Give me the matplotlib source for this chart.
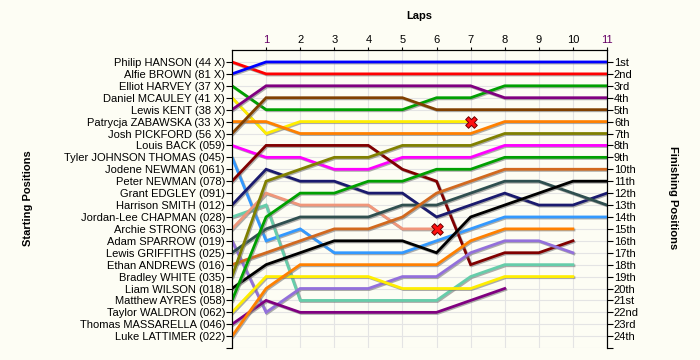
import numpy as np
import matplotlib
matplotlib.use("Agg")
import matplotlib.pyplot as plt
import matplotlib.patheffects as pe

# Drivers in starting order (grid position 1..24)
drivers = [
    "Philip HANSON (44 X)", "Alfie BROWN (81 X)", "Elliot HARVEY (37 X)",
    "Daniel MCAULEY (41 X)", "Lewis KENT (38 X)", "Patrycja ZABAWSKA (33 X)",
    "Josh PICKFORD (56 X)", "Louis BACK (059)", "Tyler JOHNSON THOMAS (045)",
    "Jodene NEWMAN (061)", "Peter NEWMAN (078)", "Grant EDGLEY (091)",
    "Harrison SMITH (012)", "Jordan-Lee CHAPMAN (028)", "Archie STRONG (063)",
    "Adam SPARROW (019)", "Lewis GRIFFITHS (025)", "Ethan ANDREWS (016)",
    "Bradley WHITE (035)", "Liam WILSON (018)", "Matthew AYRES (058)",
    "Taylor WALDRON (062)", "Thomas MASSARELLA (046)", "Luke LATTIMER (022)",
]

finish_labels = ["1st", "2nd", "3rd"] + [f"{i}th" for i in range(4, 21)] + ["21st", "22nd", "23rd", "24th"]

# Position at each lap (lap 0 = grid)
positions = {
    "Philip HANSON (44 X)":      [1, 2, 2, 2, 2, 2, 2, 2, 2, 2, 2, 2],
    "Alfie BROWN (81 X)":        [2, 1, 1, 1, 1, 1, 1, 1, 1, 1, 1, 1],
    "Elliot HARVEY (37 X)":      [3, 5, 5, 5, 5, 5, 4, 4, 3, 3, 3, 3],
    "Daniel MCAULEY (41 X)":     [4, 7, 6, 6, 6, 6, 6, 6],
    "Lewis KENT (38 X)":         [5, 3, 3, 3, 3, 3, 3, 3, 4, 4, 4, 4],
    "Patrycja ZABAWSKA (33 X)":  [6, 6, 7, 7, 7, 7, 7, 7, 6, 6, 6, 6],
    "Josh PICKFORD (56 X)":      [7, 4, 4, 4, 4, 4, 5, 5, 5, 5, 5, 5],
    "Louis BACK (059)":          [8, 9, 9, 10, 10, 9, 9, 9, 8, 8, 8, 8],
    "Tyler JOHNSON THOMAS (045)": [9, 16, 15, 17, 17, 17, 16, 15, 14, 14, 14, 14],
    "Peter NEWMAN (078)":        [11, 8, 8, 8, 8, 10, 11, 18, 17, 17, 16],
    "Harrison SMITH (012)":      [13, 10, 11, 11, 12, 12, 14, 13, 12, 13, 13, 12],
    "Jordan-Lee CHAPMAN (028)":  [14, 13, 21, 21, 21, 21, 21, 19, 18, 18, 18],
    "Archie STRONG (063)":       [15, 12, 13, 13, 13, 15, 15],
    "Adam SPARROW (019)":        [16, 22, 20, 20, 20, 19, 19, 17, 16, 16, 17],
    "Lewis GRIFFITHS (025)":     [17, 15, 14, 14, 14, 13, 13, 12, 11, 11, 12, 13],
    "Ethan ANDREWS (016)":       [18, 17, 16, 15, 15, 14, 12, 11, 10, 10, 10, 10],
    "Bradley WHITE (035)":       [19, 11, 10, 9, 9, 8, 8, 8, 7, 7, 7, 7],
    "Liam WILSON (018)":         [20, 18, 17, 16, 16, 16, 17, 14, 13, 12, 11, 11],
    "Matthew AYRES (058)":       [21, 14, 12, 12, 11, 11, 10, 10, 9, 9, 9, 9],
    "Taylor WALDRON (062)":      [22, 19, 19, 19, 19, 20, 20, 20, 19, 19, 19],
    "Thomas MASSARELLA (046)":   [23, 21, 22, 22, 22, 22, 22, 21, 20],
    "Luke LATTIMER (022)":       [24, 20, 18, 18, 18, 18, 18, 16, 15, 15, 15],
}

colors = {
    "Philip HANSON (44 X)": "#ff0000",
    "Alfie BROWN (81 X)": "#0000ff",
    "Elliot HARVEY (37 X)": "#00a000",
    "Daniel MCAULEY (41 X)": "#ffee00",
    "Lewis KENT (38 X)": "#800080",
    "Patrycja ZABAWSKA (33 X)": "#ff8000",
    "Josh PICKFORD (56 X)": "#804000",
    "Louis BACK (059)": "#ff00ff",
    "Tyler JOHNSON THOMAS (045)": "#3399ff",
    "Peter NEWMAN (078)": "#800000",
    "Harrison SMITH (012)": "#1a1a6e",
    "Jordan-Lee CHAPMAN (028)": "#66cdaa",
    "Archie STRONG (063)": "#f0967a",
    "Adam SPARROW (019)": "#9370db",
    "Lewis GRIFFITHS (025)": "#2f4f4f",
    "Ethan ANDREWS (016)": "#d2691e",
    "Bradley WHITE (035)": "#808000",
    "Liam WILSON (018)": "#000000",
    "Matthew AYRES (058)": "#00a000",
    "Taylor WALDRON (062)": "#ffee00",
    "Thomas MASSARELLA (046)": "#800080",
    "Luke LATTIMER (022)": "#ff8000",
}

# Retirements (lap, position)
retired_laps = [7, 6]
retired_pos = [6, 15]

laps = list(range(0, 12))

plt.rcParams["font.family"] = ["Liberation Sans", "DejaVu Sans"]
bg = "#fdfdf4"
fig = plt.figure(figsize=(7, 3.6), dpi=100, facecolor=bg)
ax = fig.add_axes([0.3314, 0.033, 0.5357, 0.828])
ax.set_facecolor(bg)

shadow = [pe.SimpleLineShadow(offset=(0.8, -0.8), shadow_color="#777777", alpha=0.6), pe.Normal()]
for name, pos in positions.items():
    ax.plot(laps[:len(pos)], pos, color=colors[name], lw=2.0,
            solid_joinstyle="miter", path_effects=shadow, zorder=3)

ax.scatter(retired_laps, retired_pos, marker="X", s=70, color="#ff1010",
           edgecolor="#700000", linewidth=0.7, zorder=5)

ax.set_xlim(0, 11)
ax.set_ylim(25, 0)

# top x-axis
ax.xaxis.tick_top()
ax.xaxis.set_label_position("top")
ax.set_xticks(range(1, 12))
ax.set_xticklabels([str(i) for i in range(1, 12)], fontsize=8)
for lbl in ax.get_xticklabels():
    if lbl.get_text() in ("1", "11"):
        lbl.set_color("#660066")
ax.set_xlabel("Laps", fontsize=8, fontweight="bold", labelpad=12)

ax.set_yticks(range(1, 26))
ax.set_yticklabels(drivers + [""], fontsize=8)
ax.tick_params(axis="y", length=4, pad=1)
ax.tick_params(axis="x", length=2.5, pad=1)

ax2 = ax.twinx()
ax2.set_ylim(25, 0)
ax2.set_yticks(range(1, 26))
ax2.set_yticklabels(finish_labels + [""], fontsize=8)
ax2.tick_params(axis="y", length=4, pad=1)
ax2.spines["bottom"].set_visible(False)

ax.spines["bottom"].set_visible(False)
ax.grid(True, color="#e4e4e4", lw=0.8, zorder=0)
ax.set_axisbelow(True)

fig.text(0.04, 0.45, "Starting Positions", rotation=90, fontsize=8,
         fontweight="bold", ha="center", va="center")
fig.text(0.962, 0.45, "Finishing Positions", rotation=270, fontsize=8,
         fontweight="bold", ha="center", va="center")

fig.savefig("out.png", dpi=100, facecolor=bg)
